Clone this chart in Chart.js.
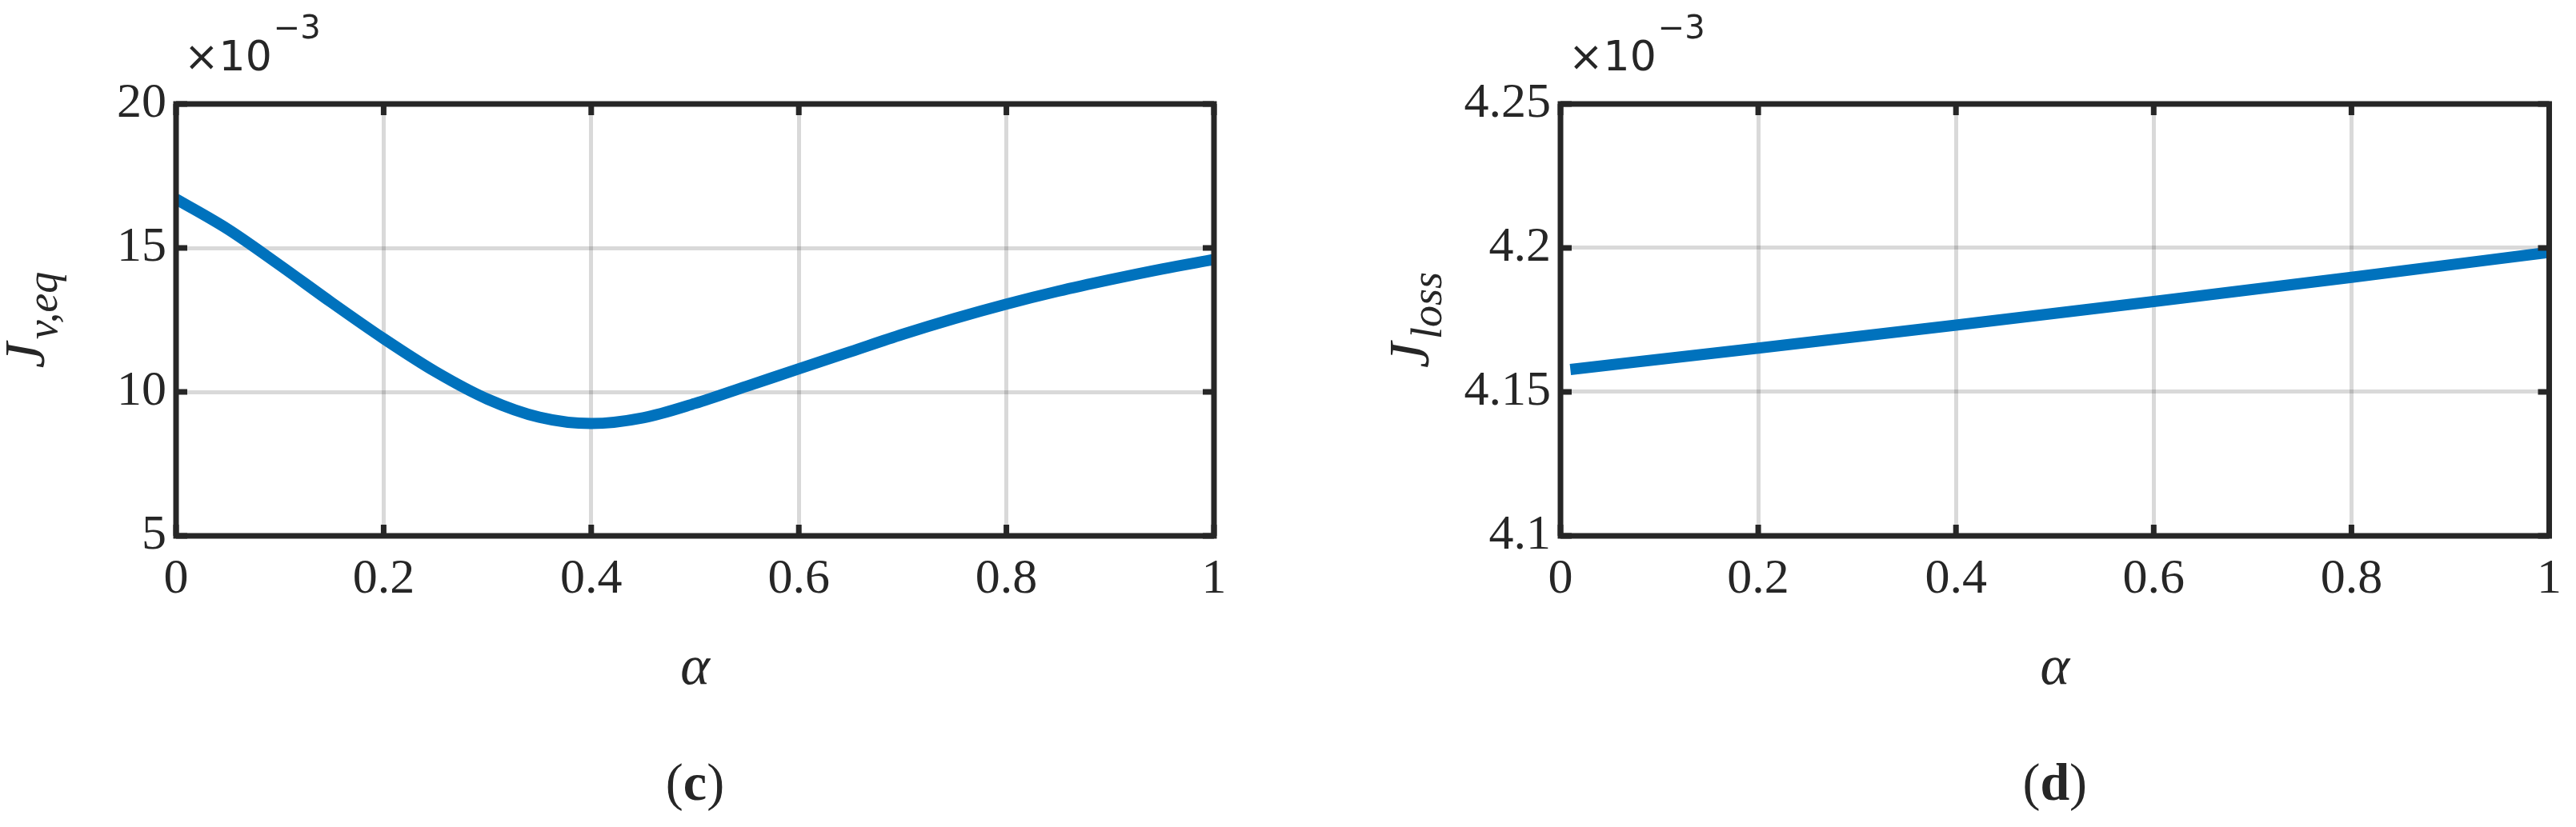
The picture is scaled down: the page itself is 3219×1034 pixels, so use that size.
<!DOCTYPE html>
<html><head><meta charset="utf-8">
<script src="https://cdn.jsdelivr.net/npm/chart.js@4/dist/chart.umd.min.js"></script>
<style>
html,body{margin:0;padding:0;background:#fff;width:3219px;height:1034px;overflow:hidden;font-family:"Liberation Serif",serif}
.w{position:absolute;top:0;height:1034px}
</style></head><body>
<div class="w" style="left:0;width:1609px"><canvas id="c1"></canvas></div>
<div class="w" style="left:1609px;width:1610px"><canvas id="c2"></canvas></div>
<script>
const alphaC = [0,0.05,0.1,0.15,0.2,0.25,0.3,0.35,0.4,0.45,0.5,0.55,0.6,0.65,0.7,0.75,0.8,0.85,0.9,0.95,1.0];
const jveq   = [16.7,15.65,14.4,13.1,11.85,10.7,9.75,9.12,8.9,9.1,9.6,10.2,10.8,11.4,12.0,12.55,13.05,13.5,13.9,14.27,14.6];
const alphaD = [0.01,0.2,0.4,0.6,0.8,1.0];
const jloss  = [4.1578,4.1652,4.1732,4.1814,4.1898,4.1985];
const xTicks = [0,0.2,0.4,0.6,0.8,1];
const yTicksC = [5,10,15,20];
const yTicksD = [4.1,4.15,4.2,4.25];

const FONT = '"Liberation Serif", serif';
const INK = '#262626';

function boxPlugin(sub, caption){
  return {
    id:'box',
    afterDraw(chart){
      const {ctx, chartArea:a, scales} = chart;
      ctx.save();
      ctx.strokeStyle = INK; ctx.lineWidth = 7;
      ctx.beginPath();
      scales.x.ticks.forEach(t=>{const px=scales.x.getPixelForValue(t.value);
        ctx.moveTo(px,a.bottom);ctx.lineTo(px,a.bottom-14);ctx.moveTo(px,a.top);ctx.lineTo(px,a.top+14);});
      scales.y.ticks.forEach(t=>{const py=scales.y.getPixelForValue(t.value);
        ctx.moveTo(a.left,py);ctx.lineTo(a.left+14,py);ctx.moveTo(a.right,py);ctx.lineTo(a.right-14,py);});
      ctx.stroke();
      ctx.strokeRect(a.left,a.top,a.right-a.left,a.bottom-a.top);
      ctx.fillStyle = INK;
      ctx.textBaseline='alphabetic'; ctx.textAlign='left';
      ctx.font = '52px "DejaVu Sans", sans-serif';
      ctx.fillText('×10', a.left+10, 88);
      const w = ctx.measureText('×10').width;
      ctx.font = '40px "DejaVu Sans", sans-serif';
      ctx.fillText('−3', a.left+10+w+2, 48);
      ctx.font = 'italic 70px '+FONT; ctx.textAlign='center';
      const cx=(a.left+a.right)/2;
      ctx.fillText('α', cx, 855);
      ctx.font = '66px '+FONT;
      const lp = ctx.measureText('(').width;
      ctx.font = 'bold 66px '+FONT;
      const cw = ctx.measureText(caption).width;
      const tot = 2*lp+cw;
      ctx.textAlign='left';
      ctx.font = '66px '+FONT;
      ctx.fillText('(', cx-tot/2, 1000);
      ctx.fillText(')', cx-tot/2+lp+cw, 1000);
      ctx.font = 'bold 66px '+FONT;
      ctx.fillText(caption, cx-tot/2+lp, 1000);
      ctx.translate(a.left-165, (a.top+a.bottom)/2);
      ctx.rotate(-Math.PI/2);
      ctx.font = 'italic 72px '+FONT;
      const jw = ctx.measureText('J').width;
      ctx.font = 'italic 54px '+FONT;
      const sw = ctx.measureText(sub).width;
      const tt = jw+sw+4;
      ctx.font = 'italic 72px '+FONT;
      ctx.fillText('J', -tt/2, 0);
      ctx.font = 'italic 54px '+FONT;
      ctx.fillText(sub, -tt/2+jw+4, 16);
      ctx.restore();
    }
  };
}

function make(id, xs, ys, yMin, yMax, yTicks, padL, padR, sub, cap, fmt){
  const data = xs.map((x,i)=>({x, y: ys[i]}));
  const tickFont = {family:'"Liberation Serif", serif', size:62};
  new Chart(document.getElementById(id), {
    type:'line',
    data:{datasets:[{data, borderColor:'#0072BD', borderWidth:14, pointRadius:0, cubicInterpolationMode:'monotone', fill:false, borderCapStyle:'butt'}]},
    options:{
      responsive:true, maintainAspectRatio:false, animation:false,
      devicePixelRatio:1,
      layout:{padding:{top:130,right:padR,left:0,bottom:0}},
      plugins:{legend:{display:false},tooltip:{enabled:false}},
      scales:{
        x:{type:'linear',min:0,max:1,
          afterBuildTicks(s){s.ticks = xTicks.map(v=>({value:v}));},
          ticks:{font:tickFont,color:INK,padding:18,maxRotation:0,callback:v=>String(v)},
          grid:{color:'rgba(0,0,0,0.15)',lineWidth:5,drawTicks:false},
          border:{display:false},
          afterFit(s){s.height = 364;}
        },
        y:{min:yMin,max:yMax,
          afterBuildTicks(s){s.ticks = yTicks.map(v=>({value:v}));},
          ticks:{font:tickFont,color:INK,padding:12,callback:fmt},
          grid:{color:'rgba(0,0,0,0.15)',lineWidth:5,drawTicks:false},
          border:{display:false},
          afterFit(s){s.width = padL;}
        }
      }
    },
    plugins:[boxPlugin(sub, cap)]
  });
}
function go(){
  make('c1', alphaC, jveq, 5, 20, yTicksC, 220, 92, 'v,eq', 'c', v=>String(v));
  make('c2', alphaD, jloss, 4.1, 4.25, yTicksD, 341, 24, 'loss', 'd', v=>String(Number(v.toFixed(2))));
}
Promise.all([
  document.fonts.load('62px "Liberation Serif"'),
  document.fonts.load('italic 72px "Liberation Serif"'),
  document.fonts.load('bold 66px "Liberation Serif"')
]).then(go, go);
</script>
</body></html>
